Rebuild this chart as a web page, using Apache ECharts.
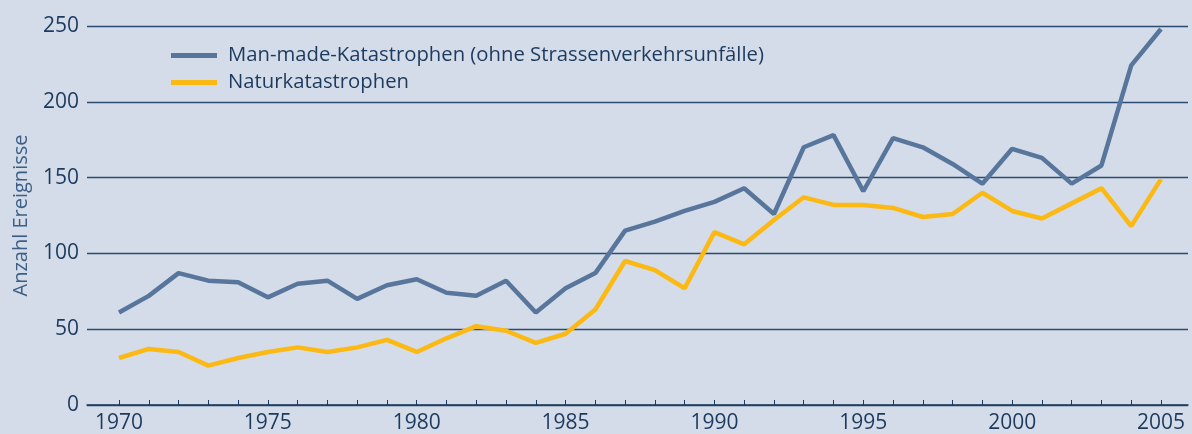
<!DOCTYPE html>
<html>
<head>
<meta charset="utf-8">
<script src="https://cdn.jsdelivr.net/npm/echarts@6/dist/echarts.min.js"></script>
<style>
  html, body { margin: 0; padding: 0; background: #d3dce8; }
  #chart { width: 1192px; height: 434px; }
</style>
</head>
<body>
<div id="chart"></div>
<script>
// Jahre 1970-2005
const years = [];
for (let y = 1970; y <= 2005; y++) years.push(y);

const labelYears = [1970, 1975, 1980, 1985, 1990, 1995, 2000, 2005];

const manMade = [61, 72, 87, 82, 81, 71, 80, 82, 70, 79,
                 83, 74, 72, 82, 61, 77, 87, 115, 121, 128,
                 134, 143, 126, 170, 178, 141, 176, 170, 159, 146,
                 169, 163, 146, 158, 224, 248];

const natur = [31, 37, 35, 26, 31, 35, 38, 35, 38, 43,
               35, 44, 52, 49, 41, 47, 63, 95, 89, 77,
               114, 106, 122, 137, 132, 132, 130, 124, 126, 140,
               128, 123, 133, 143, 118, 149];

const navy = '#1c3a5e';
const font = 'Open Sans';

let options = {
  backgroundColor: '#d3dce8',
  animation: false,
  grid: {
    left: 87,
    right: 4,
    top: 26,
    bottom: 28.5
  },
  legend: {
    orient: 'vertical',
    left: 171,
    top: 44,
    padding: 0,
    itemWidth: 46,
    itemHeight: 5,
    itemGap: 4,
    icon: 'rect',
    textStyle: {
      color: navy,
      fontFamily: font,
      fontSize: 20.3,
      lineHeight: 23,
      padding: [0, 0, 0, 6]
    },
    data: ['Man-made-Katastrophen (ohne Strassenverkehrsunfälle)', 'Naturkatastrophen']
  },
  xAxis: {
    type: 'value',
    min: 1968.925,
    max: 2005.907,
    splitLine: { show: false },
    axisLine: { show: true, lineStyle: { color: navy, width: 1.5 } },
    axisTick: {
      show: true,
      inside: true,
      length: 5,
      customValues: years,
      lineStyle: { color: navy, width: 1 }
    },
    axisLabel: {
      customValues: labelYears,
      color: navy,
      fontFamily: font,
      fontSize: 21,
      margin: 8,
      formatter: v => String(v)
    }
  },
  yAxis: {
    type: 'value',
    min: 0,
    max: 250,
    interval: 50,
    name: 'Anzahl Ereignisse',
    nameLocation: 'middle',
    nameRotate: 90,
    nameGap: 56,
    nameTextStyle: {
      color: '#3d5f87',
      fontFamily: font,
      fontSize: 20
    },
    axisLine: { show: false },
    axisTick: { show: false },
    splitLine: { lineStyle: { color: '#2a4a70', width: 1.3 } },
    axisLabel: {
      color: navy,
      fontFamily: font,
      fontSize: 21,
      margin: 8
    }
  },
  series: [
    {
      name: 'Man-made-Katastrophen (ohne Strassenverkehrsunfälle)',
      type: 'line',
      data: years.map((y, i) => [y, manMade[i]]),
      showSymbol: false,
      symbol: 'none',
      color: '#58769c',
      lineStyle: { width: 4.5, color: '#58769c' }
    },
    {
      name: 'Naturkatastrophen',
      type: 'line',
      data: years.map((y, i) => [y, natur[i]]),
      showSymbol: false,
      symbol: 'none',
      color: '#fdb913',
      lineStyle: { width: 4.5, color: '#fdb913' }
    }
  ]
};

let myChart = echarts.init(document.getElementById('chart'));
myChart.setOption(options);
</script>
</body>
</html>
